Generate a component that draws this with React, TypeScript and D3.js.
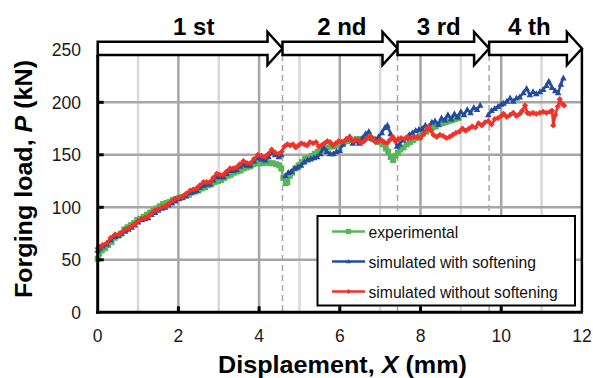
import React from "react";
import * as d3 from "d3";

// ---------- data ----------
const xTicks = [0, 2, 4, 6, 8, 10, 12];
const yTicks = [0, 50, 100, 150, 200, 250];
const phaseBounds = [0, 4.58, 7.43, 9.7, 12];
const phaseLabels = ["1 st", "2 nd", "3 rd", "4 th"];
const phaseLabelX = [2.38, 6.05, 8.45, 10.7];
const legendLabels = ["experimental", "simulated with softening", "simulated without softening"];

const expX = [0.00,0.04,0.10,0.18,0.26,0.34,0.42,0.50,0.58,0.66,0.74,0.82,0.90,0.98,1.06,1.14,1.22,1.30,1.38,1.46,1.54,1.62,1.70,1.78,1.86,1.94,2.02,2.10,2.18,2.26,2.34,2.42,2.50,2.58,2.66,2.74,2.82,2.90,2.98,3.06,3.14,3.22,3.30,3.38,3.46,3.54,3.62,3.70,3.78,3.86,3.94,4.02,4.10,4.18,4.26,4.34,4.42,4.50,4.55,4.60,4.66,4.70,4.76,4.82,4.90,4.98,5.06,5.14,5.22,5.30,5.38,5.46,5.54,5.62,5.70,5.78,5.86,5.94,6.02,6.10,6.18,6.26,6.34,6.42,6.50,6.58,6.66,6.74,6.82,6.90,6.98,7.06,7.14,7.20,7.26,7.32,7.38,7.44,7.50,7.58,7.66,7.74,7.82,7.90,7.98,8.06,8.14,8.22,8.30,8.38,8.46,8.54,8.62,8.70,8.78,8.86,8.94];
const expY = [51,56,59,61,64,67,71,73,75,79,81,83,85,88,89,91,93,95,97,99,101,103,104,105,107,108,109,110,111,112,114,115,116,118,119,121,122,124,125,126,128,130,131,133,134,135,137,138,139,141,142,142,142,143,142,142,141,140,137,128,123,124,130,133,137,140,143,146,147,149,151,153,154,155,157,158,158,159,160,162,163,164,164,165,165,165,166,166,165,164,162,160,156,153,148,145,149,152,155,157,160,162,164,166,168,170,172,174,176,177,179,180,181,182,183,184,185];

const softX = [0.00,0.05,0.12,0.22,0.32,0.43,0.52,0.59,0.68,0.76,0.84,0.92,1.00,1.09,1.17,1.25,1.33,1.42,1.50,1.59,1.67,1.75,1.84,1.92,2.01,2.10,2.19,2.29,2.37,2.45,2.53,2.62,2.70,2.78,2.86,2.95,3.03,3.11,3.19,3.28,3.36,3.44,3.52,3.61,3.70,3.78,3.87,3.97,4.06,4.15,4.23,4.31,4.40,4.49,4.55,4.60,4.65,4.72,4.80,4.88,4.96,5.04,5.12,5.20,5.28,5.36,5.44,5.52,5.60,5.68,5.76,5.84,5.92,6.00,6.08,6.16,6.24,6.32,6.40,6.48,6.56,6.64,6.72,6.80,6.88,6.96,7.04,7.12,7.18,7.26,7.34,7.42,7.48,7.56,7.64,7.72,7.80,7.88,7.96,8.04,8.12,8.20,8.28,8.36,8.44,8.52,8.60,8.68,8.76,8.84,8.92,9.00,9.08,9.16,9.24,9.32,9.40,9.48,9.58,9.68,9.76,9.84,9.92,10.00,10.06,10.14,10.22,10.30,10.38,10.46,10.55,10.63,10.71,10.79,10.87,10.96,11.04,11.12,11.18,11.26,11.34,11.41,11.48,11.54];
const softY = [59,61,63,65,69,72,73,75,77,79,81,83,86,88,89,90,93,95,97,99,100,102,104,106,108,109,111,114,115,116,119,121,122,122,126,129,129,129,132,135,135,136,139,141,140,140,144,147,146,145,148,152,150,148,150,null,130,133,134,137,138,140,143,145,146,147,148,151,157,153,151,151,153,154,160,165,167,161,163,161,166,170,172,166,164,167,171,176,178,170,166,158,160,164,166,169,171,173,174,175,178,176,181,182,179,185,183,188,184,189,186,191,188,193,190,195,193,197,null,188,192,194,196,198,199,201,204,201,204,205,209,213,207,210,208,210,212,216,220,214,211,209,217,223];

const noSoftX = [0.00,0.05,0.12,0.22,0.32,0.43,0.52,0.59,0.68,0.76,0.84,0.92,1.00,1.09,1.17,1.25,1.33,1.42,1.50,1.59,1.67,1.75,1.84,1.92,2.01,2.10,2.19,2.29,2.37,2.45,2.53,2.62,2.70,2.78,2.86,2.95,3.03,3.11,3.19,3.28,3.36,3.44,3.52,3.61,3.70,3.78,3.87,3.97,4.06,4.15,4.23,4.31,4.40,4.49,4.56,4.63,4.70,4.77,4.84,4.91,4.98,5.05,5.12,5.19,5.26,5.34,5.41,5.48,5.55,5.62,5.69,5.76,5.83,5.90,5.97,6.04,6.11,6.18,6.25,6.32,6.39,6.46,6.53,6.60,6.67,6.75,6.82,6.89,6.96,7.03,7.10,7.17,7.24,7.31,7.38,7.45,7.52,7.60,7.68,7.76,7.84,7.92,8.00,8.08,8.15,8.20,8.26,8.32,8.40,8.48,8.56,8.64,8.72,8.80,8.88,8.96,9.04,9.12,9.20,9.28,9.36,9.44,9.52,9.60,9.68,9.76,9.84,9.92,10.00,10.06,10.14,10.22,10.30,10.38,10.46,10.52,10.59,10.65,10.71,10.79,10.87,10.96,11.04,11.12,11.21,11.26,11.29,11.34,11.40,11.45,11.50,11.56];
const noSoftY = [61,62,64,66,71,74,74,76,79,80,82,84,87,89,90,91,94,97,98,100,101,103,106,108,109,110,113,116,117,118,121,124,124,124,128,132,131,131,134,137,137,138,141,144,142,142,146,150,149,148,151,155,152,151,153,158,160,159,160,157,159,161,160,159,162,161,162,158,159,161,163,162,159,161,163,162,163,165,167,163,164,164,161,163,166,168,165,162,163,164,162,161,164,167,163,165,166,165,167,166,167,167,166,170,174,177,173,169,167,169,168,166,167,169,171,172,175,173,175,177,176,180,178,181,182,179,184,185,187,189,186,188,190,187,189,192,197,190,189,190,189,190,191,190,191,192,178,188,196,203,199,197];

// ---------- chart ----------
const W = 593;
const H = 378;
const FONT = "'Liberation Sans', Arial, sans-serif";
const GREEN = "#5ab55a";
const BLUE = "#234ba0";
const RED = "#f03228";

const x = d3.scaleLinear().domain([0, 12]).range([97.7, 581.9]);
const y = d3.scaleLinear().domain([0, 250]).range([312.3, 49.8]);

type P = { x: number; y: number | null };
const zip = (xs: number[], ys: (number | null)[]): P[] => xs.map((v, i) => ({ x: v, y: ys[i] }));

const line = d3
  .line<P>()
  .defined((d) => d.y != null)
  .x((d) => x(d.x))
  .y((d) => y(d.y as number));

const expData = zip(expX, expY);
const softData = zip(softX, softY);
const noSoftData = zip(noSoftX, noSoftY);

const sq = "M-3,-3H3V3H-3Z";
const tri = "M0,-3.6L3.3,2.4L-3.3,2.4Z";
const dia = "M0,-3.1L3.1,0L0,3.1L-3.1,0Z";
const sqL = "M-2.6,-2.6H2.6V2.6H-2.6Z";
const triL = "M0,-2.6L2.4,1.8L-2.4,1.8Z";
const diaL = "M0,-2.4L2.4,0L0,2.4L-2.4,0Z";

function Series({ data, color, marker }: { data: P[]; color: string; marker: string }) {
  return (
    <g>
      <path d={line(data) || ""} fill="none" stroke={color} strokeWidth={2.5} strokeLinejoin="round" />
      {data
        .filter((d) => d.y != null)
        .map((d, i) => (
          <path key={i} d={marker} transform={`translate(${x(d.x)},${y(d.y as number)})`} fill={color} />
        ))}
    </g>
  );
}

export default function App() {
  const bandTop = 41.7;
  const bandBot = 55;
  const headTop = 32;
  const headBot = 65;
  const tipY = 48.5;
  const headLen = 15;
  const minorX = d3.range(1, 12);
  const gridY = yTicks.filter((t) => t > 0 && t < 250);

  const legendRows = [
    { label: legendLabels[0], color: GREEN, marker: sqL },
    { label: legendLabels[1], color: BLUE, marker: triL },
    { label: legendLabels[2], color: RED, marker: diaL },
  ];

  return (
    <svg
      width={W}
      height={H}
      style={{ position: "absolute", left: 0, top: 0, background: "#fff" }}
      fontFamily={FONT}
    >
      <rect width={W} height={H} fill="#fff" />
      {/* gridlines */}
      {minorX.map((v) => (
        <line
          key={"gx" + v}
          x1={x(v)}
          x2={x(v)}
          y1={bandBot}
          y2={y(0)}
          stroke={v % 2 === 0 ? "#a6a6a6" : "#d9d9d9"}
          strokeWidth={2.5}
        />
      ))}
      {gridY.map((v) => (
        <line key={"gy" + v} x1={x(0)} x2={x(12)} y1={y(v)} y2={y(v)} stroke="#a6a6a6" strokeWidth={2.5} />
      ))}
      {/* phase boundaries */}
      {phaseBounds.slice(1, -1).map((b) => (
        <line
          key={"pb" + b}
          x1={x(b)}
          x2={x(b)}
          y1={bandBot}
          y2={y(0)}
          stroke="#a8a8a8"
          strokeWidth={1.5}
          strokeDasharray="6,4"
        />
      ))}

      {/* series */}
      <Series data={expData} color={GREEN} marker={sq} />
      <Series data={softData} color={BLUE} marker={tri} />
      <Series data={noSoftData} color={RED} marker={dia} />

      {/* axes */}
      <line x1={x(0)} x2={x(0)} y1={bandBot} y2={y(0) + 1.5} stroke="#000" strokeWidth={3} />
      <line x1={x(0) - 1.5} x2={x(12) + 1} y1={y(0)} y2={y(0)} stroke="#000" strokeWidth={3} />
      <line x1={x(12)} x2={x(12)} y1={tipY} y2={y(0)} stroke="#000" strokeWidth={2.5} />
      {yTicks
        .filter((t) => t > 0 && t < 250)
        .map((t) => (
          <line key={"yt" + t} x1={x(0)} x2={x(0) + 6} y1={y(t)} y2={y(t)} stroke="#000" strokeWidth={3} />
        ))}
      {xTicks
        .filter((t) => t > 0 && t < 12)
        .map((t) => (
          <line key={"xt" + t} x1={x(t)} x2={x(t)} y1={y(0)} y2={y(0) - 6} stroke="#000" strokeWidth={3} />
        ))}
      {yTicks.map((t) => (
        <text key={"yl" + t} x={81} y={y(t) + 6.5} textAnchor="end" fontSize={17.5} fill="#1a1a1a">
          {t}
        </text>
      ))}
      {xTicks.map((t) => (
        <text key={"xl" + t} x={x(t)} y={341.5} textAnchor="middle" fontSize={17.5} fill="#1a1a1a">
          {t}
        </text>
      ))}

      {/* axis titles */}
      <text
        x={342.5}
        y={373}
        textAnchor="middle"
        fontSize={24.5}
        fontWeight="bold"
        fill="#000"
        textLength={249}
        lengthAdjust="spacingAndGlyphs"
      >
        Displaement, <tspan fontStyle="italic">X</tspan> (mm)
      </text>
      <text
        transform="translate(31.5,179) rotate(-90)"
        textAnchor="middle"
        fontSize={24.5}
        fontWeight="bold"
        fill="#000"
        textLength={238}
        lengthAdjust="spacingAndGlyphs"
      >
        Forging load, <tspan fontStyle="italic">P</tspan> (kN)
      </text>

      {/* phase arrows */}
      {phaseLabels.map((lab, i) => {
        const x0 = x(phaseBounds[i]);
        const x1 = x(phaseBounds[i + 1]);
        const xh = x1 - headLen;
        const d = `M${x0},${bandTop}H${xh}V${headTop}L${x1},${tipY}L${xh},${headBot}V${bandBot}H${x0}Z`;
        return (
          <g key={lab}>
            <path d={d} fill="#fff" stroke="#000" strokeWidth={2.5} strokeLinejoin="miter" />
            <text x={x(phaseLabelX[i])} y={35} textAnchor="middle" fontSize={24} fontWeight="bold" fill="#000">
              {lab}
            </text>
          </g>
        );
      })}

      {/* legend */}
      <rect x={317.5} y={216} width={257.5} height={89.5} fill="#fff" stroke="#000" strokeWidth={2} />
      {legendRows.map((r, i) => {
        const ly = 231.5 + i * 30;
        return (
          <g key={r.label}>
            <line x1={332} x2={365} y1={ly} y2={ly} stroke={r.color} strokeWidth={2.5} />
            <path d={r.marker} transform={`translate(348.5,${ly})`} fill={r.color} />
            <text x={368.5} y={ly + 6} fontSize={15.7} fill="#111">
              {r.label}
            </text>
          </g>
        );
      })}
    </svg>
  );
}
